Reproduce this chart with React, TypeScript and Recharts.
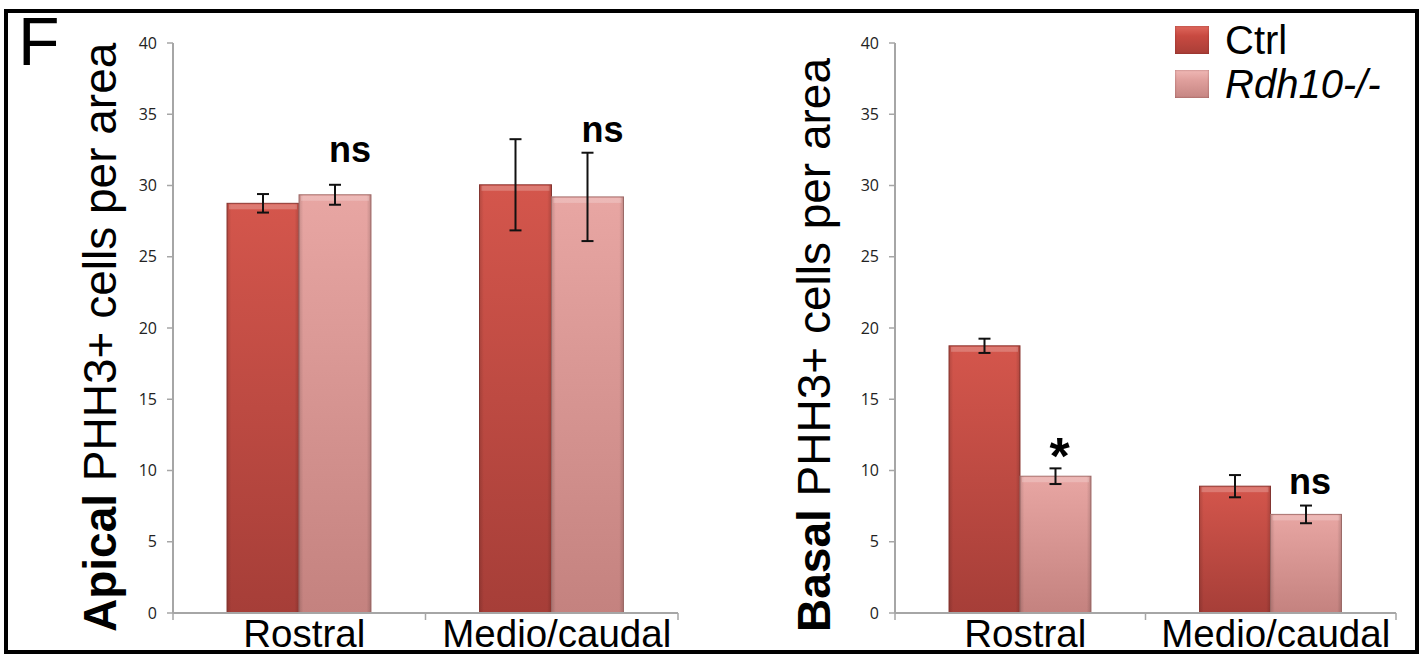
import React from 'react';
import { BarChart, Bar, XAxis, YAxis, ErrorBar, LabelList, Legend } from 'recharts';

const FONT = '"Liberation Sans", Arial, Helvetica, sans-serif';
const TICK_FONT = '"Open Sans", "DejaVu Sans", sans-serif';
const AXIS = '#a6a6a6';

const categories = ['Rostral', 'Medio/caudal'];
const seriesNames = ['Ctrl', 'Rdh10-/-'];
const yTicks = [0, 5, 10, 15, 20, 25, 30, 35, 40];

const apicalCtrl = [28.75, 30.05];
const apicalCtrlErr = [0.65, 3.2];
const apicalRdh = [29.35, 29.2];
const apicalRdhErr = [0.7, 3.1];
const apicalSig = ['ns', 'ns'];

const basalCtrl = [18.75, 8.9];
const basalCtrlErr = [0.5, 0.78];
const basalRdh = [9.6, 6.92];
const basalRdhErr = [0.55, 0.62];
const basalSig = ['*', 'ns'];

const build = (c: number[], ce: number[], r: number[], re: number[], s: string[]) =>
  categories.map((name, i) => ({ name, ctrl: c[i], ctrlErr: ce[i], rdh: r[i], rdhErr: re[i], sig: s[i] }));

const apicalData = build(apicalCtrl, apicalCtrlErr, apicalRdh, apicalRdhErr, apicalSig);
const basalData = build(basalCtrl, basalCtrlErr, basalRdh, basalRdhErr, basalSig);

const XTick = (props: any) => {
  const { x, y, payload, index, visibleTicksCount, width } = props;
  const half = payload && payload.offset ? payload.offset : width / visibleTicksCount / 2;
  const last = index === visibleTicksCount - 1;
  return (
    <g>
      <line x1={x - half} x2={x - half} y1={y} y2={y + 7} stroke={AXIS} strokeWidth={1.5} />
      {last && <line x1={x + half} x2={x + half} y1={y} y2={y + 7} stroke={AXIS} strokeWidth={1.5} />}
      <text x={x + 5} y={y + 34} textAnchor="middle" fontFamily={FONT} fontSize={38.5} fill="#000">
        {payload.value}
      </text>
    </g>
  );
};

const makeBevel = (gradId: string, edgeId: string, stroke: string) => (props: any) => {
  const { x, y, width, height } = props;
  if (!height || height <= 0) return null;
  return (
    <g>
      <rect x={x} y={y} width={width} height={height} fill={`url(#${gradId})`} stroke={stroke} strokeWidth={1} />
      <rect x={x} y={y} width={width} height={height} fill={`url(#${edgeId})`} />
      <rect x={x + 2} y={y + 1} width={width - 4} height={Math.min(5, height)} fill="rgba(255,255,255,0.22)" />
    </g>
  );
};

const makeSig = (data: any[], dx: number[], dy: number[]) => (props: any) => {
  const vb = props.viewBox || props;
  const { x, y, width, height } = vb;
  const i = props.index;
  const row = data[i];
  if (!row) return null;
  const ppu = Math.abs(height) / row.rdh;
  const errTop = y - row.rdhErr * ppu;
  const isStar = row.sig === '*';
  return (
    <text
      x={x + width / 2 + dx[i]}
      y={errTop + dy[i]}
      textAnchor="middle"
      fontFamily={FONT}
      fontWeight="bold"
      fontSize={isStar ? 52 : 36}
      fill="#000"
    >
      {row.sig}
    </text>
  );
};

const swatchCtrl = 'linear-gradient(180deg, #e0685d 0%, #c84a41 35%, #a93e37 100%)';
const swatchRdh = 'linear-gradient(180deg, #f0b8b5 0%, #e0a09d 35%, #c58582 100%)';

const LegendContent = (props: any) => {
  const items = (props.payload && props.payload.length ? props.payload.map((p: any) => p.value) : seriesNames);
  return (
    <div style={{ fontFamily: FONT }}>
      {items.map((name: string, i: number) => (
        <div key={name} style={{ display: 'flex', alignItems: 'center', height: 44 }}>
          <div
            style={{
              width: 34,
              height: 28,
              background: i === 0 ? swatchCtrl : swatchRdh,
              boxShadow: 'inset 0 0 2px rgba(80,20,20,0.5)',
              marginRight: 16,
            }}
          />
          <span style={{ fontSize: 40, fontStyle: i === 1 ? 'italic' : 'normal', color: '#000', lineHeight: '44px' }}>
            {name}
          </span>
        </div>
      ))}
    </div>
  );
};

type PanelProps = {
  id: string;
  data: any[];
  left: number;
  width: number;
  yAxisWidth: number;
  marginRight: number;
  titleBold: string;
  titleRest: string;
  titleX: number;
  sigDx: number[];
  sigDy: number[];
  barSize: number;
  showLegend?: boolean;
};

function Panel(p: PanelProps) {
  const gC = `${p.id}-gc`;
  const gR = `${p.id}-gr`;
  const edge = `${p.id}-edge`;
  const titleContent = (lp: any) => {
    const vb = lp.viewBox || {};
    const tx = (vb.x || 0) + p.titleX;
    const ty = (vb.y || 0) + (vb.height || 0) + 19;
    return (
      <text
        x={tx}
        y={ty}
        transform={`rotate(-90 ${tx} ${ty})`}
        textAnchor="start"
        fontFamily={FONT}
        fontSize={46}
        fill="#000"
      >
        <tspan fontWeight="bold">{p.titleBold}</tspan>
        <tspan>{' ' + p.titleRest}</tspan>
      </text>
    );
  };
  return (
    <div style={{ position: 'absolute', left: p.left, top: 0, width: p.width, height: 656 }}>
      <BarChart
        width={p.width}
        height={656}
        data={p.data}
        margin={{ top: 43, right: p.marginRight, bottom: 0, left: 0 }}
        barGap={0}
        barSize={p.barSize}
      >
        <defs>
          <linearGradient id={gC} x1="0" y1="0" x2="0" y2="1">
            <stop offset="0%" stopColor="#d4564c" />
            <stop offset="100%" stopColor="#a63e38" />
          </linearGradient>
          <linearGradient id={gR} x1="0" y1="0" x2="0" y2="1">
            <stop offset="0%" stopColor="#e8a6a3" />
            <stop offset="100%" stopColor="#c4827f" />
          </linearGradient>
          <linearGradient id={edge} x1="0" y1="0" x2="1" y2="0">
            <stop offset="0%" stopColor="rgba(0,0,0,0.14)" />
            <stop offset="6%" stopColor="rgba(0,0,0,0)" />
            <stop offset="94%" stopColor="rgba(0,0,0,0)" />
            <stop offset="100%" stopColor="rgba(0,0,0,0.16)" />
          </linearGradient>
        </defs>
        <XAxis
          dataKey="name"
          height={43}
          interval={0}
          tick={<XTick />}
          tickLine={false}
          tickSize={0}
          tickMargin={0}
          axisLine={{ stroke: AXIS, strokeWidth: 2 }}
        />
        <YAxis
          width={p.yAxisWidth}
          domain={[0, 40]}
          ticks={yTicks}
          interval={0}
          tick={{ fill: '#222', fontSize: 16, fontFamily: TICK_FONT }}
          tickSize={6}
          tickMargin={10}
          axisLine={{ stroke: AXIS, strokeWidth: 2 }}
          tickLine={{ stroke: AXIS, strokeWidth: 1.5 }}
          label={{ content: titleContent }}
        />
        <Bar dataKey="ctrl" name={seriesNames[0]} fill="#c84a41" shape={makeBevel(gC, edge, '#8e3a35')} isAnimationActive={false}>
          <ErrorBar dataKey="ctrlErr" width={6} strokeWidth={2} stroke="#111" isAnimationActive={false} />
        </Bar>
        <Bar dataKey="rdh" name={seriesNames[1]} fill="#e0a09d" shape={makeBevel(gR, edge, '#a87370')} isAnimationActive={false}>
          <ErrorBar dataKey="rdhErr" width={6} strokeWidth={2} stroke="#111" isAnimationActive={false} />
          <LabelList dataKey="sig" content={makeSig(p.data, p.sigDx, p.sigDy)} />
        </Bar>
        {p.showLegend && (
          <Legend
            layout="vertical"
            align="center"
            verticalAlign="middle"
            content={LegendContent}
            wrapperStyle={{ position: 'absolute', left: 475, top: 18, width: 240 }}
          />
        )}
      </BarChart>
    </div>
  );
}

export default function App() {
  return (
    <div style={{ position: 'absolute', left: 0, top: 0, width: 1423, height: 656, background: '#fff', overflow: 'hidden' }}>
      <Panel
        id="apical"
        data={apicalData}
        left={0}
        width={700}
        yAxisWidth={173}
        marginRight={22}
        titleBold="Apical"
        titleRest="PHH3+ cells per area"
        titleX={116}
        sigDx={[15, 15]}
        sigDy={[-23, -11]}
        barSize={72}
      />
      <Panel
        id="basal"
        data={basalData}
        left={700}
        width={723}
        yAxisWidth={195}
        marginRight={27}
        titleBold="Basal"
        titleRest="PHH3+ cells per area"
        titleX={130}
        sigDx={[4, 4]}
        sigDy={[6, -12]}
        barSize={71}
        showLegend
      />
      <svg width={1423} height={656} style={{ position: 'absolute', left: 0, top: 0, pointerEvents: 'none' }}>
        <rect x={6} y={11} width={1411} height={641} fill="none" stroke="#000" strokeWidth={4} />
        <text x={18} y={65} fontFamily={FONT} fontSize={68} fill="#000">F</text>
      </svg>
    </div>
  );
}
